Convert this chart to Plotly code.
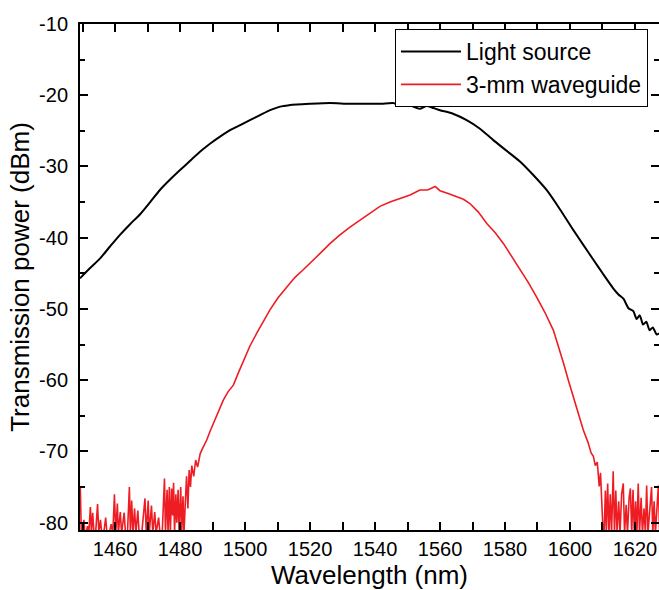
import plotly.graph_objects as go

# Light source (black)
src_wl = [1449.2, 1452.0, 1455.4, 1458.5, 1461.5, 1464.6, 1467.7, 1470.8, 1473.8, 1477.0, 1480.0,
          1483.1, 1486.2, 1489.2, 1492.3, 1495.4, 1498.5, 1501.5, 1504.6, 1507.7, 1510.8, 1513.5,
          1515.9, 1520.0, 1526.2, 1532.0, 1538.5, 1542.0, 1545.6, 1547.7, 1549.7, 1551.8, 1553.8,
          1555.9, 1558.0, 1560.0, 1564.0, 1568.2, 1572.3, 1576.4, 1580.5, 1584.6, 1588.7, 1592.8,
          1596.9, 1601.0, 1604.1, 1607.2, 1610.2, 1613.3, 1615.0, 1616.5, 1618.0, 1619.5, 1620.5,
          1621.5, 1622.5, 1623.5, 1624.5, 1625.5, 1626.7, 1627.4]
src_db = [-45.7, -44.4, -42.9, -41.2, -39.6, -38.1, -36.7, -35.0, -33.3, -31.8, -30.5,
          -29.2, -27.9, -26.8, -25.8, -24.9, -24.2, -23.5, -22.8, -22.1, -21.6, -21.4,
          -21.3, -21.2, -21.1, -21.2, -21.2, -21.2, -21.1, -21.5, -21.1, -21.6, -21.9,
          -21.5, -21.8, -22.1, -22.6, -23.5, -24.7, -26.3, -27.8, -29.3, -31.2, -33.3,
          -36.0, -38.9, -41.0, -43.1, -45.1, -47.1, -48.0, -48.6, -49.9, -50.3, -51.4,
          -50.9, -52.2, -51.8, -53.0, -52.6, -53.6, -53.4]

# 3-mm waveguide (red)
wg_wl = [1449.3, 1449.6, 1450.0, 1450.4, 1450.7, 1451.1, 1451.5, 1451.9, 1452.4, 1452.7,
         1453.1, 1453.5, 1454.0, 1454.6, 1455.0, 1455.5, 1455.9, 1456.5, 1457.1, 1457.5,
         1458.2, 1458.8, 1459.3, 1459.8, 1460.2, 1460.7, 1461.0, 1461.6, 1462.0, 1462.8,
         1463.2, 1463.8, 1464.4, 1464.7, 1465.1, 1465.5, 1466.0, 1466.4, 1467.0, 1467.4,
         1468.2, 1469.2, 1469.6, 1470.2, 1470.5, 1471.2, 1471.6, 1472.2, 1472.6, 1473.4,
         1473.8, 1474.5, 1475.2, 1475.5, 1476.0, 1476.3, 1476.7, 1477.0, 1477.4, 1477.7,
         1478.0, 1478.3, 1478.7, 1479.0, 1479.4, 1479.7, 1480.2, 1480.5, 1480.9, 1481.2,
         1481.6, 1482.0, 1482.4, 1482.8, 1483.2, 1483.6, 1484.2, 1484.8, 1485.4, 1486.2,
         1487.0, 1488.2, 1489.2, 1490.2, 1491.8, 1493.3, 1494.8, 1496.4, 1498.0, 1499.5,
         1501.5, 1503.6, 1505.6, 1507.7, 1510.2, 1512.8, 1515.3, 1517.9, 1520.5, 1523.1,
         1526.2, 1529.2, 1532.3, 1535.4, 1538.5, 1541.5, 1544.6, 1547.7, 1550.8, 1553.8,
         1556.2, 1558.5, 1560.0, 1562.5, 1565.1, 1567.2, 1569.2, 1571.8, 1574.4, 1577.0,
         1579.5, 1582.0, 1584.6, 1587.2, 1589.7, 1592.3, 1594.9, 1596.5, 1598.0, 1599.5,
         1601.0, 1602.6, 1604.1, 1605.6, 1606.5, 1607.2, 1607.8, 1608.4, 1609.0, 1609.4,
         1609.8, 1610.2, 1610.5, 1610.9, 1611.2, 1611.6, 1612.0, 1612.4, 1612.8, 1613.3,
         1613.7, 1614.1, 1614.5, 1615.0, 1615.4, 1615.9, 1616.4, 1616.8, 1617.3, 1617.7,
         1618.2, 1618.6, 1619.0, 1619.4, 1619.8, 1620.2, 1620.6, 1621.0, 1621.4, 1621.9,
         1622.3, 1622.8, 1623.2, 1623.6, 1624.0, 1624.5, 1625.1, 1625.5, 1625.9, 1626.3,
         1626.8, 1627.2, 1627.6]
wg_db = [-75.1, -81.5, -81.5, -79.6, -81.5, -81.5, -80.5, -81.5, -77.8, -81.5,
         -78.6, -81.5, -81.5, -77.4, -81.5, -79.6, -81.5, -81.5, -79.3, -81.5,
         -81.5, -80.2, -81.5, -76.0, -81.5, -77.3, -81.5, -78.5, -81.5, -78.6,
         -81.5, -81.5, -75.0, -81.5, -76.9, -81.5, -78.0, -81.5, -78.3, -81.5,
         -81.5, -76.6, -81.5, -76.9, -81.5, -77.6, -81.5, -78.5, -81.5, -79.3,
         -81.5, -81.5, -73.8, -81.5, -75.4, -81.5, -75.0, -81.5, -75.2, -79.0,
         -74.4, -81.5, -76.0, -80.0, -75.4, -81.5, -75.0, -81.5, -76.3, -81.5,
         -77.3, -73.5, -78.0, -72.6, -75.0, -72.0, -73.5, -71.2, -72.2, -70.3,
         -69.5, -68.4, -67.2, -66.1, -64.3, -62.8, -61.6, -60.7, -58.9, -57.2,
         -55.2, -53.4, -51.7, -50.1, -48.4, -46.9, -45.6, -44.5, -43.4, -42.2,
         -40.8, -39.6, -38.5, -37.5, -36.5, -35.6, -35.0, -34.5, -34.0, -33.3,
         -33.3, -32.8, -33.4, -33.8, -34.2, -34.6, -35.2, -36.4, -38.0, -39.3,
         -40.8, -42.6, -44.5, -46.3, -48.3, -50.5, -53.0, -55.3, -57.6, -60.0,
         -62.3, -64.7, -67.0, -68.8, -70.2, -70.7, -72.0, -71.5, -74.9, -73.0,
         -77.5, -81.5, -81.5, -75.5, -81.5, -74.5, -81.5, -76.0, -81.5, -72.8,
         -81.5, -75.5, -81.5, -77.0, -81.5, -76.0, -74.5, -81.5, -77.5, -81.5,
         -76.5, -75.2, -81.5, -75.4, -81.5, -77.0, -81.5, -74.5, -81.5, -76.5,
         -81.5, -78.0, -81.5, -74.8, -81.5, -79.0, -75.0, -81.5, -77.0, -81.5,
         -78.0, -74.8, -81.5]

x_ticks = [1460, 1480, 1500, 1520, 1540, 1560, 1580, 1600, 1620]
x_labels = ["1460", "1480", "1500", "1520", "1540", "1560", "1580", "1600", "1620"]
y_ticks = [-80, -70, -60, -50, -40, -30, -20, -10]
y_labels = ["-80", "-70", "-60", "-50", "-40", "-30", "-20", "-10"]

FONT = "Liberation Sans, Arial, sans-serif"

fig = go.Figure()
fig.add_trace(go.Scatter(x=src_wl, y=src_db, mode="lines", name="Light source",
                         line=dict(color="black", width=2, shape="spline", smoothing=0.6)))
fig.add_trace(go.Scatter(x=wg_wl, y=wg_db, mode="lines", name="3-mm waveguide",
                         line=dict(color="#ee1d23", width=1.6)))

minor_x = dict(dtick=10, tick0=1460, ticks="inside", ticklen=5, tickwidth=1.5,
               tickcolor="black", showgrid=False)
minor_y = dict(dtick=5, tick0=-80, ticks="inside", ticklen=5, tickwidth=1.5,
               tickcolor="black", showgrid=False)

fig.update_layout(
    width=659, height=590,
    margin=dict(l=80, r=0, t=24, b=60),
    paper_bgcolor="white", plot_bgcolor="white",
    font=dict(family=FONT, color="black", size=20),
    showlegend=True,
    legend=dict(x=0.544, y=0.99, xanchor="left", yanchor="top",
                bgcolor="white", bordercolor="black", borderwidth=1,
                font=dict(size=23, family=FONT), itemwidth=60,
                tracegroupgap=0),
    xaxis=dict(range=[1449.2, 1627.4], tickvals=x_ticks, ticktext=x_labels,
               ticks="inside", ticklen=8,
               tickwidth=1.5, tickcolor="black", showline=True, linecolor="black",
               linewidth=2, mirror="allticks", showgrid=False, zeroline=False,
               minor=minor_x, tickfont=dict(size=20),
               title=dict(text="Wavelength (nm)", font=dict(size=26), standoff=4)),
    yaxis=dict(range=[-81.03, -10], tickvals=y_ticks, ticktext=y_labels,
               ticks="inside", ticklen=8,
               tickwidth=1.5, tickcolor="black", showline=True, linecolor="black",
               linewidth=2, mirror=False, showgrid=False, zeroline=False,
               minor=minor_y, tickfont=dict(size=20), ticklabelstandoff=6,
               title=dict(text="Transmission power (dBm)", font=dict(size=26), standoff=2)),
    yaxis2=dict(overlaying="y", side="right", matches="y", range=[-81.03, -10],
                tickvals=y_ticks, ticks="inside", ticklen=8, tickwidth=1.5,
                tickcolor="black", showline=False, showticklabels=False,
                showgrid=False, zeroline=False, minor=minor_y),
)
# invisible trace to activate the right-side tick axis
fig.add_trace(go.Scatter(x=[1500], y=[-100], yaxis="y2", mode="markers",
                         marker=dict(opacity=0), showlegend=False, hoverinfo="skip"))

fig.write_html("out.html")
